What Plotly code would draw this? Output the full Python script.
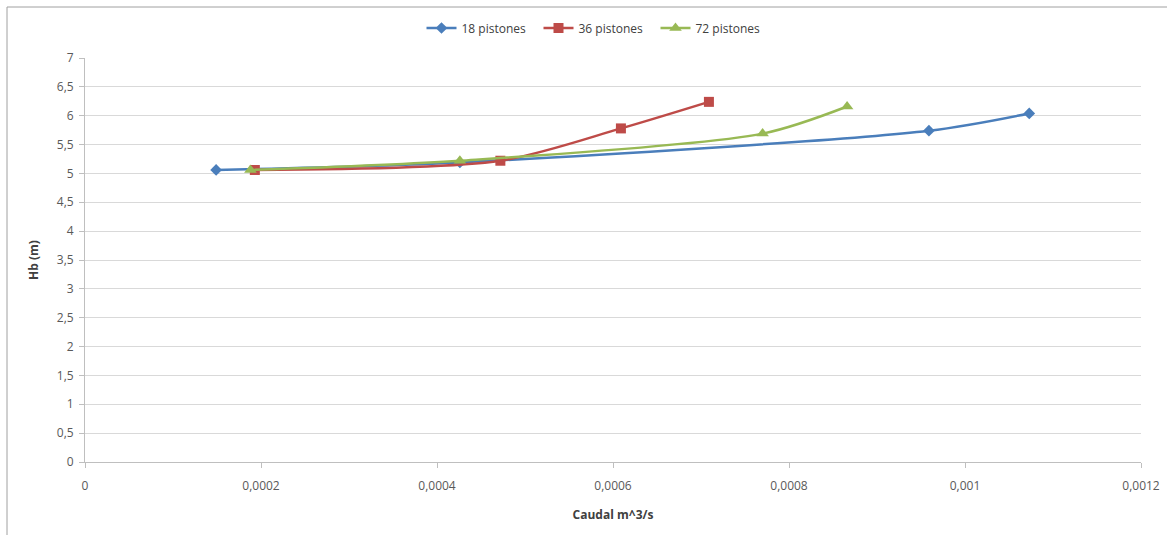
import plotly.graph_objects as go

# Data
q18 = [0.000149, 0.000426, 0.000959, 0.001073]
h18 = [5.06, 5.19, 5.74, 6.04]
q36 = [0.000193, 0.000472, 0.000609, 0.000709]
h36 = [5.06, 5.22, 5.78, 6.24]
q72 = [0.000188, 0.000426, 0.000770, 0.000866]
h72 = [5.06, 5.22, 5.69, 6.16]

x_tickvals = [0, 0.0002, 0.0004, 0.0006, 0.0008, 0.001, 0.0012]
x_ticktext = ["0", "0,0002", "0,0004", "0,0006", "0,0008", "0,001", "0,0012"]
y_tickvals = [0, 0.5, 1, 1.5, 2, 2.5, 3, 3.5, 4, 4.5, 5, 5.5, 6, 6.5, 7]
y_ticktext = ["0", "0,5", "1", "1,5", "2", "2,5", "3", "3,5", "4", "4,5", "5", "5,5", "6", "6,5", "7"]

series = [
    ("18 pistones", q18, h18, "#4A7EBB", "diamond", 9),
    ("36 pistones", q36, h36, "#BE4B48", "square", 10),
    ("72 pistones", q72, h72, "#98B954", "triangle-up", 11),
]

fig = go.Figure()
for name, xs, ys, col, sym, sz in series:
    fig.add_trace(go.Scatter(
        x=xs, y=ys, name=name, mode="lines+markers",
        line=dict(color=col, width=2.5, shape="spline", smoothing=0.8),
        marker=dict(symbol=sym, size=sz, color=col),
    ))

W, H = 1167, 535
L, R, T, B = 85, 26, 58, 73
pw, ph = W - L - R, H - T - B

def px(x):
    return (x - L) / pw

def py(y):
    return (H - B - y) / ph

fig.update_layout(
    width=W, height=H,
    margin=dict(l=L, r=R, t=T, b=B, autoexpand=False),
    paper_bgcolor="white", plot_bgcolor="white",
    font=dict(family="Open Sans, Liberation Sans, sans-serif", size=12, color="#595959"),
    legend=dict(orientation="h", x=0.5 - 16 / pw, xanchor="center", y=py(28), yanchor="middle",
                font=dict(size=12, color="#404040"), itemwidth=30, tracegroupgap=0,
                entrywidth=72, entrywidthmode="pixels"),
    xaxis=dict(range=[0, 0.0012], tickvals=x_tickvals, ticktext=x_ticktext, automargin=False,
               showgrid=False, zeroline=False, showline=True, linecolor="#BFBFBF", linewidth=1,
               ticks="outside", ticklen=5, tickcolor="#BFBFBF", ticklabelstandoff=8,
               title=dict(text="<b>Caudal m^3/s</b>", font=dict(size=12, color="#404040"), standoff=17)),
    yaxis=dict(range=[0, 7], tickvals=y_tickvals, ticktext=y_ticktext, automargin=False,
               showgrid=True, gridcolor="#D9D9D9", gridwidth=1.3, zeroline=False,
               showline=True, linecolor="#BFBFBF", linewidth=1,
               ticks="outside", ticklen=5, tickcolor="#BFBFBF", ticklabelstandoff=3,
               title=dict(text="<b>Hb (m)</b>", font=dict(size=12, color="#404040"), standoff=15)),
    shapes=[
        dict(type="line", xref="paper", yref="paper", x0=px(7), x1=px(1167), y0=py(7), y1=py(7),
             line=dict(color="#A0A0A0", width=1)),
        dict(type="line", xref="paper", yref="paper", x0=px(7), x1=px(7), y0=py(7), y1=py(535),
             line=dict(color="#A0A0A0", width=1)),
    ],
)

fig.write_html("out.html", config={"displayModeBar": False},
               post_script="document.body.style.margin='0px';document.body.style.overflow='hidden';")
